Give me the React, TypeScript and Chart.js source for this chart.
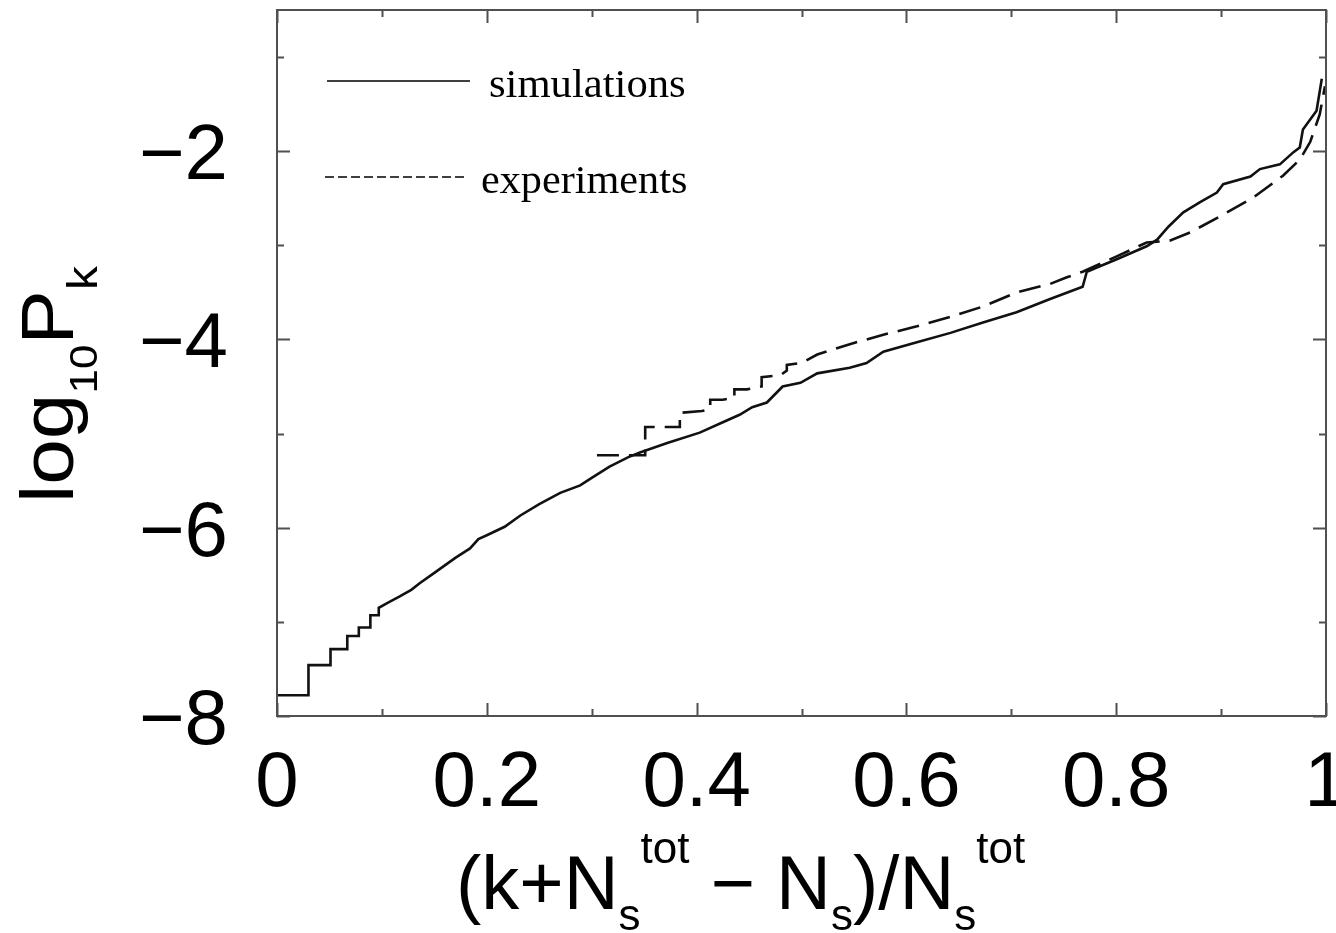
import React, { useEffect, useRef } from "react";
import { Chart, registerables } from "chart.js";

Chart.register(...registerables);

// ---- data ----
const simX = [
  0, 0.03, 0.03, 0.051, 0.051, 0.067, 0.067, 0.078, 0.078, 0.089, 0.089, 0.097, 0.097,
  0.105, 0.117, 0.128, 0.136, 0.15, 0.16, 0.17, 0.184, 0.192, 0.2, 0.217, 0.232, 0.25,
  0.27, 0.289, 0.3, 0.317, 0.335, 0.346, 0.372, 0.403, 0.425, 0.441, 0.453, 0.467, 0.482,
  0.499, 0.515, 0.546, 0.562, 0.578, 0.61, 0.642, 0.673, 0.705, 0.737, 0.768, 0.772, 0.785,
  0.8, 0.829, 0.839, 0.85, 0.864, 0.88, 0.896, 0.902, 0.928, 0.937, 0.956, 0.969, 0.975,
  0.978, 0.991, 0.996,
];
const simY = [
  -7.78, -7.78, -7.46, -7.46, -7.29, -7.29, -7.15, -7.15, -7.06, -7.06, -6.93, -6.93, -6.85,
  -6.8, -6.73, -6.66, -6.59, -6.48, -6.4, -6.32, -6.22, -6.12, -6.08, -5.99, -5.87, -5.75,
  -5.63, -5.55, -5.47, -5.35, -5.25, -5.2, -5.1, -4.99, -4.88, -4.8, -4.72, -4.67, -4.5,
  -4.46, -4.36, -4.3, -4.25, -4.13, -4.03, -3.93, -3.82, -3.71, -3.57, -3.44, -3.28, -3.22,
  -3.15, -3.01, -2.94, -2.8, -2.65, -2.54, -2.44, -2.35, -2.27, -2.19, -2.14, -2.01, -1.96,
  -1.77, -1.57, -1.23,
];
const expX = [
  0.305, 0.351, 0.351, 0.384, 0.384, 0.405, 0.413, 0.413, 0.425, 0.436, 0.436, 0.448, 0.462,
  0.462, 0.48, 0.486, 0.486, 0.5, 0.515, 0.546, 0.578, 0.61, 0.642, 0.673, 0.705, 0.737,
  0.753, 0.768, 0.8, 0.829, 0.851, 0.871, 0.901, 0.931, 0.959, 0.975, 0.985, 0.994, 0.999,
];
const expY = [
  -5.23, -5.23, -4.93, -4.93, -4.78, -4.76, -4.74, -4.64, -4.64, -4.62, -4.53, -4.53, -4.5,
  -4.4, -4.38, -4.33, -4.27, -4.25, -4.16, -4.05, -3.95, -3.86, -3.76, -3.65, -3.5, -3.41,
  -3.34, -3.28, -3.12, -2.97, -2.95, -2.86, -2.68, -2.49, -2.26, -2.09, -1.9, -1.61, -1.31,
];
const xMajorTicks = [0, 0.2, 0.4, 0.6, 0.8, 1];
const xMinorTicks = [0.1, 0.3, 0.5, 0.7, 0.9];
const xTickLabels = ["0", "0.2", "0.4", "0.6", "0.8", "1"];
const yMajorTicks = [-8, -6, -4, -2];
const yMinorTicks = [-7, -5, -3, -1];
const yTickLabels = ["\u22128", "\u22126", "\u22124", "\u22122"];
const seriesNames = ["simulations", "experiments"];

const SANS = '"Liberation Sans", Arial, sans-serif';
const SERIF = '"Liberation Serif", "Times New Roman", serif';

type Seg = { t: string; size: number; dy: number };

function drawRun(ctx: CanvasRenderingContext2D, segs: Seg[], font: string) {
  let cx = 0;
  for (const s of segs) {
    ctx.font = `${s.size}px ${font}`;
    ctx.fillText(s.t, cx, s.dy);
    cx += ctx.measureText(s.t).width;
  }
}

const decorPlugin = {
  id: "decor",
  afterDraw(chart: any) {
    const { ctx, chartArea: a, scales } = chart;
    const xs = scales.x;
    const ys = scales.y;
    ctx.save();
    // frame
    ctx.strokeStyle = "#505050";
    ctx.lineWidth = 2;
    ctx.strokeRect(a.left, a.top, a.right - a.left, a.bottom - a.top);
    // ticks
    ctx.beginPath();
    const tx = (v: number, len: number) => {
      const p = Math.round(xs.getPixelForValue(v)) + 0.5;
      ctx.moveTo(p, a.bottom);
      ctx.lineTo(p, a.bottom - len);
      ctx.moveTo(p, a.top);
      ctx.lineTo(p, a.top + len);
    };
    const ty = (v: number, len: number) => {
      const p = Math.round(ys.getPixelForValue(v)) + 0.5;
      ctx.moveTo(a.left, p);
      ctx.lineTo(a.left + len, p);
      ctx.moveTo(a.right, p);
      ctx.lineTo(a.right - len, p);
    };
    xMajorTicks.forEach((v) => tx(v, 13));
    xMinorTicks.forEach((v) => tx(v, 7));
    yMajorTicks.forEach((v) => ty(v, 13));
    yMinorTicks.forEach((v) => ty(v, 7));
    ctx.stroke();

    // tick labels
    ctx.fillStyle = "#000";
    ctx.font = `78px ${SANS}`;
    ctx.textBaseline = "alphabetic";
    ctx.textAlign = "center";
    xMajorTicks.forEach((v, i) => {
      ctx.fillText(xTickLabels[i], xs.getPixelForValue(v), 806);
    });
    ctx.textAlign = "right";
    yMajorTicks.forEach((v, i) => {
      ctx.fillText(yTickLabels[i], a.left - 49, ys.getPixelForValue(v) + 28);
    });

    // x title
    ctx.textAlign = "left";
    ctx.save();
    ctx.translate(456, 909);
    drawRun(
      ctx,
      [
        { t: "(k+N", size: 76, dy: 0 },
        { t: "s", size: 44, dy: 21 },
        { t: "tot", size: 44, dy: -46 },
        { t: " \u2212 N", size: 76, dy: 0 },
        { t: "s", size: 44, dy: 21 },
        { t: ")/N", size: 76, dy: 0 },
        { t: "s", size: 44, dy: 21 },
        { t: "tot", size: 44, dy: -46 },
      ],
      SANS
    );
    ctx.restore();

    // y title
    ctx.save();
    ctx.translate(73, 503);
    ctx.rotate(-Math.PI / 2);
    ctx.scale(1, 0.9);
    drawRun(
      ctx,
      [
        { t: "log", size: 82, dy: 0 },
        { t: "10", size: 44, dy: 27 },
        { t: "P", size: 82, dy: 0 },
        { t: "k", size: 48, dy: 27 },
      ],
      SANS
    );
    ctx.restore();

    // legend
    ctx.strokeStyle = "#000";
    ctx.lineWidth = 1.6;
    ctx.beginPath();
    ctx.moveTo(327, 81);
    ctx.lineTo(470, 81);
    ctx.stroke();
    ctx.setLineDash([9, 4]);
    ctx.beginPath();
    ctx.moveTo(325, 177);
    ctx.lineTo(468, 177);
    ctx.stroke();
    ctx.setLineDash([]);
    ctx.font = `41px ${SERIF}`;
    ctx.save();
    ctx.translate(489, 97);
    ctx.scale(1.04, 1);
    ctx.fillText(seriesNames[0], 0, 0);
    ctx.restore();
    ctx.save();
    ctx.translate(481, 193);
    ctx.scale(1.03, 1);
    ctx.fillText(seriesNames[1], 0, 0);
    ctx.restore();

    ctx.restore();
  },
};

export default function App() {
  const ref = useRef<HTMLCanvasElement | null>(null);
  useEffect(() => {
    if (!ref.current) return;
    const chart = new Chart(ref.current, {
      type: "scatter",
      data: {
        datasets: [
          {
            label: seriesNames[0],
            data: simX.map((x, i) => ({ x, y: simY[i] })),
            showLine: true,
            pointRadius: 0,
            borderColor: "#111",
            borderWidth: 2.6,
            tension: 0,
          },
          {
            label: seriesNames[1],
            data: expX.map((x, i) => ({ x, y: expY[i] })),
            showLine: true,
            pointRadius: 0,
            borderColor: "#111",
            borderWidth: 2.6,
            borderDash: [22, 10],
            tension: 0,
          },
        ],
      },
      options: {
        animation: false,
        responsive: false,
        events: [],
        layout: { padding: { top: 10, right: 10, left: 0, bottom: 0 } },
        plugins: { legend: { display: false }, tooltip: { enabled: false }, title: { display: false } },
        scales: {
          x: {
            type: "linear",
            min: 0,
            max: 1,
            ticks: { display: false },
            grid: { display: false, drawTicks: false },
            border: { display: false },
            afterFit: (s: any) => {
              s.height = 217;
            },
          },
          y: {
            type: "linear",
            min: -8,
            max: -0.5,
            ticks: { display: false },
            grid: { display: false, drawTicks: false },
            border: { display: false },
            afterFit: (s: any) => {
              s.width = 277;
            },
          },
        },
      },
      plugins: [decorPlugin],
    });
    return () => chart.destroy();
  }, []);
  return (
    <div style={{ position: "fixed", left: 0, top: 0, width: 1336, height: 933, background: "#fff" }}>
      <canvas ref={ref} width={1336} height={933} style={{ display: "block" }} />
    </div>
  );
}
